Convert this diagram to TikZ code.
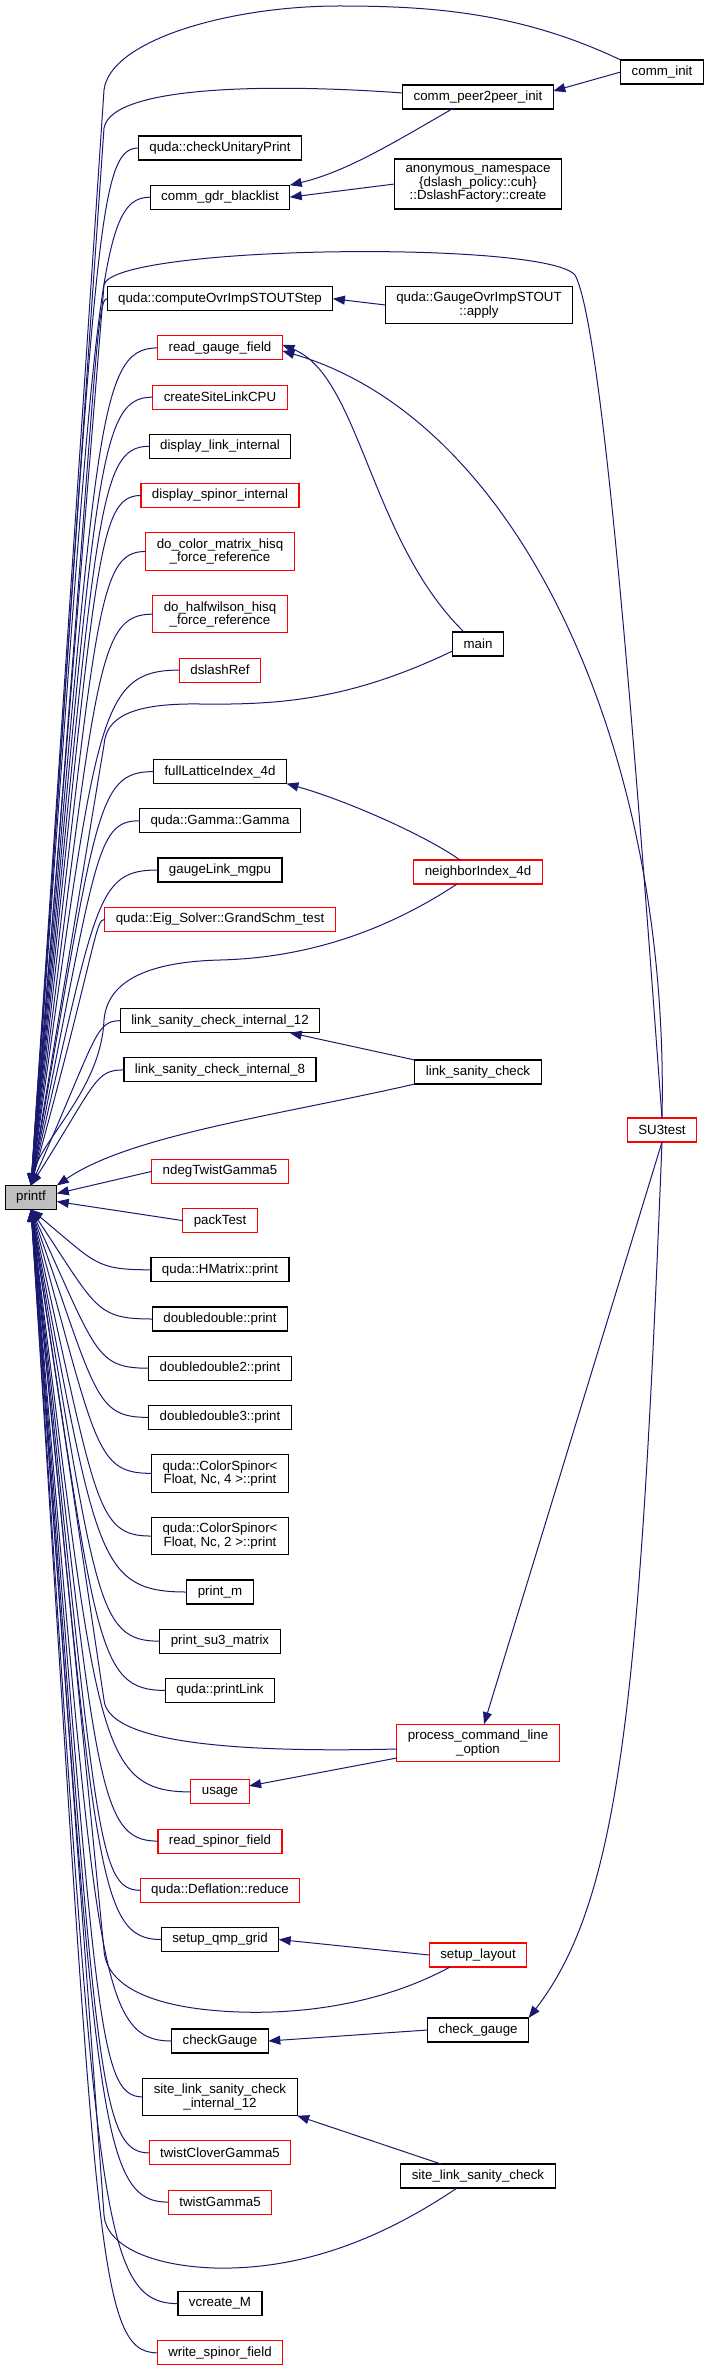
\documentclass[tikz,border=0pt]{standalone}
\usepackage{fontspec}
\setmainfont{Liberation Sans}
\usepackage{tikz}
\usetikzlibrary{positioning, calc, arrows.meta}
\definecolor{edgeblue}{RGB}{25,25,112}
\definecolor{rootfill}{RGB}{191,191,191}
\definecolor{morered}{RGB}{255,0,0}

\begin{document}
\begin{tikzpicture}[
    x=1pt, y=-1pt,
    fn/.style={draw=black, fill=white, line width=1.1pt, align=center, inner xsep=11pt, inner ysep=3pt, outer sep=0pt, minimum height=24pt, font=\fontsize{13.3}{13.3}\selectfont},
    fn2/.style={fn, minimum height=37.5pt},
    fnred/.style={fn, draw=morered},
    fnred2/.style={fn2, draw=morered},
    fnroot/.style={fn, fill=rootfill},
    edge/.style={draw=edgeblue, line width=1pt, -{Triangle[length=12pt, width=9pt]}}
]
\useasboundingbox (0,0) rectangle (705,2373);

% ---------- Root ----------
\node[fnroot] (printf) at (31,1197.5) {printf};
\coordinate (elbow) at (95,0);
\coordinate (spine) at (104,0);

% ---------- Direct callers (left column) ----------
\node[fn] (unitary) at (220,148) {quda::checkUnitaryPrint};
\node[fn, below=25.2pt of unitary] (gdr) {comm\_gdr\_blacklist};
\node[fn, below=77.5pt of gdr] (compute) {quda::computeOvrImpSTOUTStep};
\node[fnred, below=25.2pt of compute] (readgauge) {read\_gauge\_field};
\node[fnred, below=25.2pt of readgauge] (createlink) {createSiteLinkCPU};
\node[fn, below=25.2pt of createlink] (displink) {display\_link\_internal};
\node[fnred, below=25.2pt of displink] (dispspinor) {display\_spinor\_internal};
\node[fnred2, below=25.2pt of dispspinor] (colorhisq) {do\_color\_matrix\_hisq\\\_force\_reference};
\node[fnred2, below=25.2pt of colorhisq] (halfwilson) {do\_halfwilson\_hisq\\\_force\_reference};
\node[fnred, below=25.2pt of halfwilson] (dslashref) {dslashRef};
\node[fn, below=77.5pt of dslashref] (fullindex) {fullLatticeIndex\_4d};
\node[fn, below=25.2pt of fullindex] (gamma) {quda::Gamma::Gamma};
\node[fn, below=25.2pt of gamma] (gaugelink) {gaugeLink\_mgpu};
\node[fnred, below=25.2pt of gaugelink] (grandschm) {quda::Eig\_Solver::GrandSchm\_test};
\node[fn, below=77.5pt of grandschm] (lsc12) {link\_sanity\_check\_internal\_12};
\node[fn, below=25.2pt of lsc12] (lsc8) {link\_sanity\_check\_internal\_8};
\node[fnred, below=77.5pt of lsc8] (ndeg) {ndegTwistGamma5};
\node[fnred, below=25.2pt of ndeg] (packtest) {packTest};
\node[fn, below=25.2pt of packtest] (hmatrix) {quda::HMatrix::print};
\node[fn, below=25.2pt of hmatrix] (ddprint) {doubledouble::print};
\node[fn, below=25.2pt of ddprint] (dd2print) {doubledouble2::print};
\node[fn, below=25.2pt of dd2print] (dd3print) {doubledouble3::print};
\node[fn2, below=25.2pt of dd3print] (cs4print) {quda::ColorSpinor<\\Float, Nc, 4 >::print};
\node[fn2, below=25.2pt of cs4print] (cs2print) {quda::ColorSpinor<\\Float, Nc, 2 >::print};
\node[fn, below=25.2pt of cs2print] (printm) {print\_m};
\node[fn, below=25.2pt of printm] (su3matrix) {print\_su3\_matrix};
\node[fn, below=25.2pt of su3matrix] (printlink) {quda::printLink};
\node[fnred, below=77.5pt of printlink] (usage) {usage};
\node[fnred, below=25.2pt of usage] (readspinor) {read\_spinor\_field};
\node[fnred, below=25.2pt of readspinor] (deflreduce) {quda::Deflation::reduce};
\node[fn, below=25.2pt of deflreduce] (qmpgrid) {setup\_qmp\_grid};
\node[fn, below=77.5pt of qmpgrid] (checkGauge) {checkGauge};
\node[fn2, below=25.2pt of checkGauge] (slsc12) {site\_link\_sanity\_check\\\_internal\_12};
\node[fnred, below=25.2pt of slsc12] (twistclover) {twistCloverGamma5};
\node[fnred, below=25.2pt of twistclover] (twistgamma) {twistGamma5};
\node[fn, below=77.5pt of twistgamma] (vcreate) {vcreate\_M};
\node[fnred, below=25.2pt of vcreate] (writespinor) {write\_spinor\_field};

% ---------- Indirect callers (right columns) ----------
\node[fn] (comminit) at (662,72) {comm\_init};
\node[fn] (peerinit) at (478,97) {comm\_peer2peer\_init};
\node[fn, minimum height=50pt] (dslashfac) at (478,184) {anonymous\_namespace\\\{dslash\_policy::cuh\}\\::DslashFactory::create};
\node[fn2] (stoutapply) at (479,305) {quda::GaugeOvrImpSTOUT\\::apply};
\node[fn] (main) at (478,644) {main};
\node[fnred] (neighbor) at (478,872) {neighborIndex\_4d};
\node[fn] (lsc) at (478,1072) {link\_sanity\_check};
\node[fnred] (su3test) at (662,1130) {SU3test};
\node[fnred2] (pclo) at (478,1743) {process\_command\_line\\\_option};
\node[fnred] (layout) at (478,1955) {setup\_layout};
\node[fn] (chkgauge) at (478,2030) {check\_gauge};
\node[fn] (slsc) at (478,2176) {site\_link\_sanity\_check};

% ---------- Calls into printf ----------
\foreach \n in {unitary, gdr, compute, readgauge, createlink, displink, dispspinor, colorhisq, halfwilson, dslashref, fullindex, gamma, gaugelink, grandschm, lsc12, lsc8}
  \draw[edge] (\n.west) .. controls (\n.west -| elbow) and ($(\n.west -| spine)!0.1!(printf.north)$) .. (printf.north);
\foreach \n in {hmatrix, ddprint, dd2print, dd3print, cs4print, cs2print, printm, su3matrix, printlink, usage, readspinor, deflreduce, qmpgrid, checkGauge, slsc12, twistclover, twistgamma, vcreate, writespinor}
  \draw[edge] (\n.west) .. controls (\n.west -| elbow) and ($(\n.west -| spine)!0.1!(printf.south)$) .. (printf.south);
\draw[edge] (ndeg.west) -- ($(printf.east)+(0,-4)$);
\draw[edge] (packtest.west) -- ($(printf.east)+(0,4)$);

% ---------- Other calls ----------
\draw[edge] (comminit.west) -- ($(peerinit.east)+(0,-6)$);
\draw[edge] (comminit.north west) .. controls (520,12) and (430,6) .. (339,6) .. controls (230,6) and (110,40) .. (104,90) -- (printf.north);
\draw[edge] ([yshift=4pt]peerinit.west) .. controls (280,84) and (112,84) .. (104,128) -- (printf.north);
\draw[edge] ([xshift=-26pt]peerinit.south) .. controls (390,145) and (345,172) .. (gdr.north east);
\draw[edge] (dslashfac.west) -- (gdr.east);
\draw[edge] (stoutapply.west) -- (compute.east);

\draw[edge] ([xshift=-14pt]main.north) .. controls (370,540) and (360,376) .. ([yshift=3pt]readgauge.east);
\draw[edge] ([yshift=-7pt]main.west) .. controls (350,700) and (280,705) .. (200,704) .. controls (130,703) and (106,718) .. (104,745) -- (printf.north);

\draw[edge] (su3test.north) .. controls (640,820) and (605,330) .. (575,275) .. controls (545,240) and (112,245) .. (104,285) -- (printf.north);
\draw[edge] (su3test.north) .. controls (670,750) and (520,420) .. ([yshift=-3pt]readgauge.east);
\draw[edge] (su3test.south) -- ($(pclo.north)+(6,0)$);
\draw[edge] (su3test.south) .. controls (640,1700) and (620,1900) .. (chkgauge.north east);

\draw[edge] ([xshift=-18pt]neighbor.north) .. controls (425,835) and (345,800) .. (fullindex.south east);
\draw[edge] ([xshift=-21pt]neighbor.south) .. controls (380,935) and (300,958) .. (220,960) .. controls (140,962) and (107,985) .. (104,1020) .. controls (101,1090) and (40,1140) .. (printf.north);

\draw[edge] (lsc.north west) -- ($(lsc12.south east)+(-30,0)$);
\draw[edge] (lsc.south west) .. controls (280,1115) and (130,1135) .. (printf.north east);

\draw[edge] ([yshift=-6pt]pclo.west) .. controls (230,1753) and (108,1742) .. (104,1700) -- (printf.south);
\draw[edge] ([yshift=-15pt]pclo.west) -- ($(usage.east)+(0,-6)$);

\draw[edge] (layout.west) -- (qmpgrid.east);
\draw[edge] ([xshift=-28pt]layout.south) .. controls (380,2005) and (300,2014) .. (240,2012) .. controls (150,2009) and (106,1985) .. (104,1950) -- (printf.south);

\draw[edge] (chkgauge.west) -- (checkGauge.east);

\draw[edge] ([xshift=-37pt]slsc.north) -- (slsc12.south east);
\draw[edge] ([xshift=-21pt]slsc.south) .. controls (380,2240) and (300,2270) .. (215,2268) .. controls (150,2266) and (106,2245) .. (104,2215) -- (printf.south);

\end{tikzpicture}
\end{document}
